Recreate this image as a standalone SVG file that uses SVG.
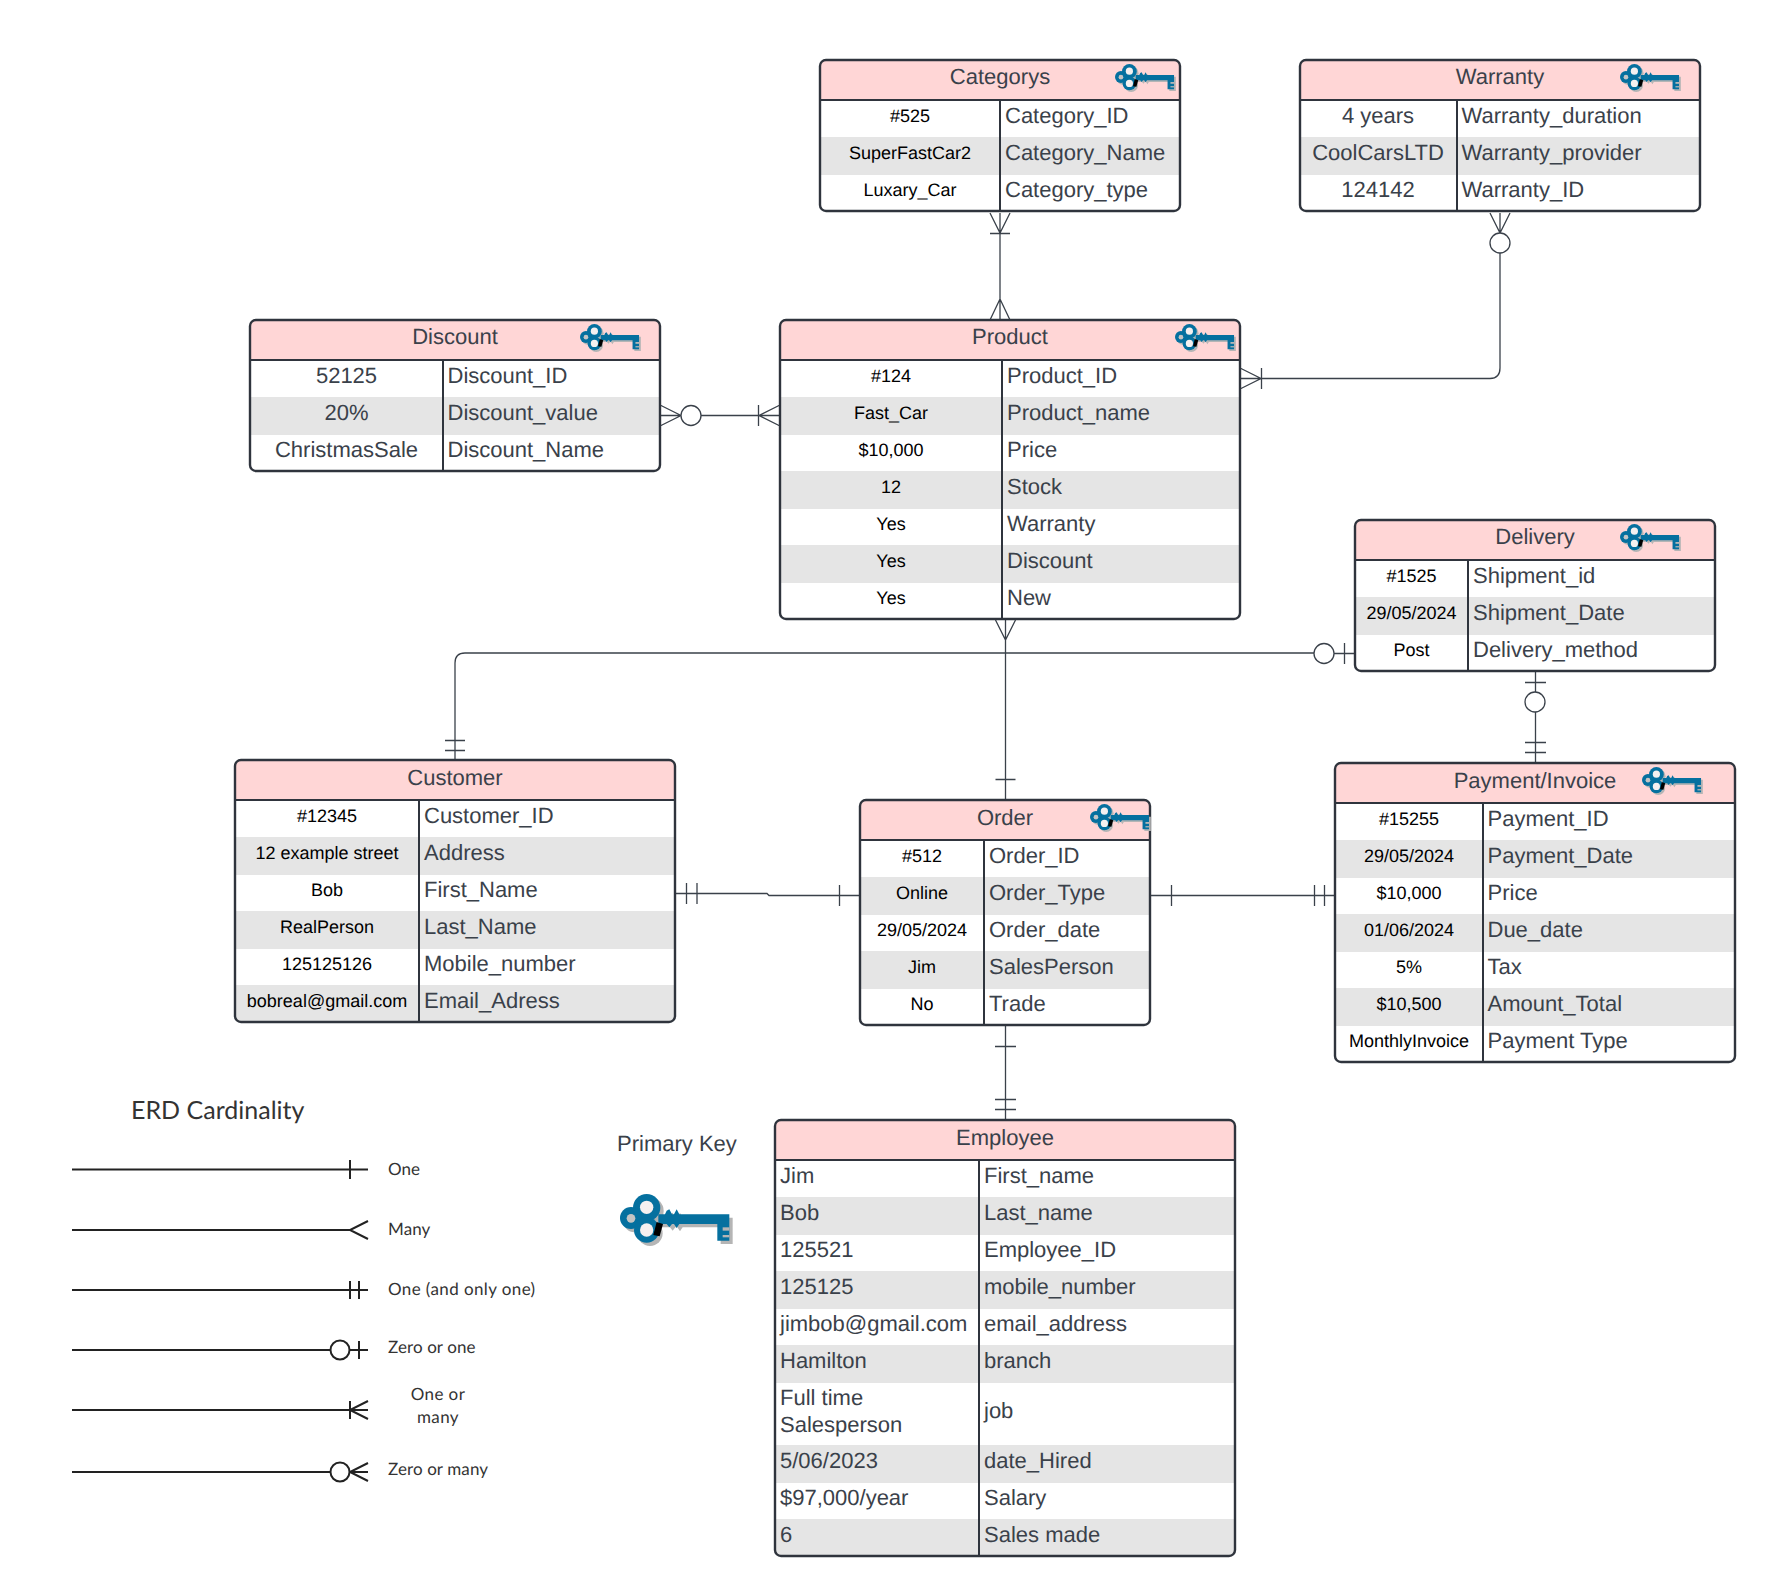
<svg xmlns="http://www.w3.org/2000/svg" xmlns:xlink="http://www.w3.org/1999/xlink" width="1775" height="1596" viewBox="0 0 1775 1596">
<style>
text{font-family:"Liberation Sans",Arial,sans-serif;font-size:22px;fill:#3a414a;text-rendering:geometricPrecision}
.m{text-anchor:middle}
.s{text-anchor:middle;font-size:18px;fill:#000;transform:translateY(-.7px)}
.box{fill:none;stroke:#2f343d;stroke-width:2.4}
.div{fill:none;stroke:#2f343d;stroke-width:2}
.hd{fill:#ffd6d6}
.g{fill:#e5e5e5}
.c{fill:none;stroke:#3a414a;stroke-width:1.3}
.o{fill:#fff;stroke:#3a414a;stroke-width:1.3}
.l{fill:none;stroke:#222;stroke-width:2}
.lo{fill:#fff;stroke:#222;stroke-width:2}
.lt{font-family:Lato,"Open Sans",sans-serif;font-size:17px;fill:#333;letter-spacing:.4px}
.ln{letter-spacing:.1px}
</style>
<defs>
<g id="keyshape">
<circle cx="140" cy="263" r="41"/><circle cx="93" cy="294" r="33"/><circle cx="140" cy="330" r="38"/>
<path d="M175 283H195L200 272L208 268L216 283H222L230 268L238 283H388V362H352V312H238L230 324L222 312H216L208 322L200 312H175Z"/>
</g>
<g id="key">
<g transform="translate(-60,-222)">
<use xlink:href="#keyshape" href="#keyshape" transform="translate(10,10)" fill="#b5b5b5"/>
<use xlink:href="#keyshape" href="#keyshape" fill="#05709f"/>
<circle cx="140" cy="262" r="20" fill="#f5f0f0"/><circle cx="93" cy="295" r="13" fill="#c4c4c4"/><circle cx="140" cy="330" r="20" fill="#f5f0f0"/>
<rect x="368" y="322" width="20" height="10" fill="#b5b5b5"/><rect x="368" y="345" width="20" height="7" fill="#b5b5b5"/>
<path d="M170 306L189 312L179 349L160 345Z" fill="#000"/>
</g>
</g>
</defs>

<g id="connectors">
<path class="c" d="M1000 213V320M990 213L1000 233L1010 213M990 233.500H1010M990 320L1000 299L1010 320"/>
<path class="c" d="M1490 213L1500 233L1510 213M1500 213V233M1500 253V368Q1500 378.500 1490 378.500H1240M1240 368L1261 378.500L1240 389M1261.500 368V389"/>
<circle class="o" cx="1500" cy="243" r="10"/>
<path class="c" d="M660 415.500H681M660 405L681 415.500L660 426M701 415.500H780M780 405L759 415.500L780 426M758.500 405V426"/>
<circle class="o" cx="691" cy="415.500" r="10"/>
<path class="c" d="M1005.500 620V800M995.500 620L1005.500 640L1015.500 620M995.500 779.500H1015.500"/>
<path class="c" d="M1314 653H465Q455 653 455 663V760M445 740.500H465M445 750.500H465"/>
<path class="c" d="M1334 653.500H1355M1344.500 643V664"/>
<circle class="o" cx="1324" cy="653.500" r="10"/>
<path class="c" d="M1535.500 671V692M1525 682.500H1546M1535.500 712V763M1525 742.500H1546M1525 752.500H1546"/>
<circle class="o" cx="1535" cy="702" r="10"/>
<path class="c" d="M675 893.500H767L769 895.500H860M686.500 883V904M697 883V904M839.500 885V906"/>
<path class="c" d="M1150 895.500H1335M1171.500 885V906M1314.500 885V906M1324.500 885V906"/>
<path class="c" d="M1005.500 1024V1120M995 1046.500H1016M995 1099.500H1016M995 1109.500H1016"/>
</g>

<g id="categorys">
<path class="hd" d="M820 100V66Q820 60 826 60H1174Q1180 60 1180 66V100Z"/>
<rect class="g" x="820" y="137" width="360" height="38"/>
<rect class="box" x="820" y="60" width="360" height="151" rx="6"/>
<path class="div" d="M820 100H1180M1000 100V211"/>
<text class="m" x="1000" y="84">Categorys</text>
<text class="s" x="910" y="123">#525</text><text x="1005" y="123">Category_ID</text>
<text class="s" x="910" y="160">SuperFastCar2</text><text x="1005" y="160">Category_Name</text>
<text class="s" x="910" y="197">Luxary_Car</text><text x="1005" y="197">Category_type</text>
<use xlink:href="#key" href="#key" transform="translate(1115,64) scale(.18)"/>
</g>

<g id="warranty">
<path class="hd" d="M1300 100V66Q1300 60 1306 60H1694Q1700 60 1700 66V100Z"/>
<rect class="g" x="1300" y="137" width="400" height="38"/>
<rect class="box" x="1300" y="60" width="400" height="151" rx="6"/>
<path class="div" d="M1300 100H1700M1457 100V211"/>
<text class="m" x="1500" y="84">Warranty</text>
<text class="m" x="1378" y="123">4 years</text><text x="1461.500" y="123">Warranty_duration</text>
<text class="m" x="1378" y="160">CoolCarsLTD</text><text x="1461.500" y="160">Warranty_provider</text>
<text class="m" x="1378" y="197">124142</text><text x="1461.500" y="197">Warranty_ID</text>
<use xlink:href="#key" href="#key" transform="translate(1620,64) scale(.18)"/>
</g>

<g id="discount">
<path class="hd" d="M250 360V326Q250 320 256 320H654Q660 320 660 326V360Z"/>
<rect class="g" x="250" y="397" width="410" height="38"/>
<rect class="box" x="250" y="320" width="410" height="151" rx="6"/>
<path class="div" d="M250 360H660M443 360V471"/>
<text class="m" x="455" y="344">Discount</text>
<text class="m" x="346.500" y="383">52125</text><text x="447.500" y="383">Discount_ID</text>
<text class="m" x="346.500" y="420">20%</text><text x="447.500" y="420">Discount_value</text>
<text class="m" x="346.500" y="457">ChristmasSale</text><text x="447.500" y="457">Discount_Name</text>
<use xlink:href="#key" href="#key" transform="translate(580,324) scale(.18)"/>
</g>

<g id="product">
<path class="hd" d="M780 360V326Q780 320 786 320H1234Q1240 320 1240 326V360Z"/>
<rect class="g" x="780" y="397" width="460" height="38"/>
<rect class="g" x="780" y="471" width="460" height="38"/>
<rect class="g" x="780" y="545" width="460" height="38"/>
<rect class="box" x="780" y="320" width="460" height="299" rx="6"/>
<path class="div" d="M780 360H1240M1002 360V619"/>
<text class="m" x="1010" y="344">Product</text>
<text class="s" x="891" y="383">#124</text><text x="1007" y="383">Product_ID</text>
<text class="s" x="891" y="420">Fast_Car</text><text x="1007" y="420">Product_name</text>
<text class="s" x="891" y="457">$10,000</text><text x="1007" y="457">Price</text>
<text class="s" x="891" y="494">12</text><text x="1007" y="494">Stock</text>
<text class="s" x="891" y="531">Yes</text><text x="1007" y="531">Warranty</text>
<text class="s" x="891" y="568">Yes</text><text x="1007" y="568">Discount</text>
<text class="s" x="891" y="605">Yes</text><text x="1007" y="605">New</text>
<use xlink:href="#key" href="#key" transform="translate(1175,324) scale(.18)"/>
</g>

<g id="delivery">
<path class="hd" d="M1355 560V526Q1355 520 1361 520H1709Q1715 520 1715 526V560Z"/>
<rect class="g" x="1355" y="597" width="360" height="38"/>
<rect class="box" x="1355" y="520" width="360" height="151" rx="6"/>
<path class="div" d="M1355 560H1715M1468 560V671"/>
<text class="m" x="1535" y="544">Delivery</text>
<text class="s" x="1411.500" y="583">#1525</text><text x="1473" y="583">Shipment_id</text>
<text class="s" x="1411.500" y="620">29/05/2024</text><text x="1473" y="620">Shipment_Date</text>
<text class="s" x="1411.500" y="657">Post</text><text x="1473" y="657">Delivery_method</text>
<use xlink:href="#key" href="#key" transform="translate(1620,524) scale(.18)"/>
</g>

<g id="payment">
<path class="hd" d="M1335 803V769Q1335 763 1341 763H1729Q1735 763 1735 769V803Z"/>
<rect class="g" x="1335" y="840" width="400" height="38"/>
<rect class="g" x="1335" y="914" width="400" height="38"/>
<rect class="g" x="1335" y="988" width="400" height="38"/>
<rect class="box" x="1335" y="763" width="400" height="299" rx="6"/>
<path class="div" d="M1335 803H1735M1483 803V1062"/>
<text class="m" x="1535" y="788">Payment/Invoice</text>
<text class="s" x="1409" y="826">#15255</text><text x="1487.500" y="826">Payment_ID</text>
<text class="s" x="1409" y="863">29/05/2024</text><text x="1487.500" y="863">Payment_Date</text>
<text class="s" x="1409" y="900">$10,000</text><text x="1487.500" y="900">Price</text>
<text class="s" x="1409" y="937">01/06/2024</text><text x="1487.500" y="937">Due_date</text>
<text class="s" x="1409" y="974">5%</text><text x="1487.500" y="974">Tax</text>
<text class="s" x="1409" y="1011">$10,500</text><text x="1487.500" y="1011">Amount_Total</text>
<text class="s" x="1409" y="1048">MonthlyInvoice</text><text x="1487.500" y="1048">Payment Type</text>
<use xlink:href="#key" href="#key" transform="translate(1642,767) scale(.18)"/>
</g>

<g id="customer">
<path class="hd" d="M235 800V766Q235 760 241 760H669Q675 760 675 766V800Z"/>
<rect class="g" x="235" y="837" width="440" height="38"/>
<rect class="g" x="235" y="911" width="440" height="38"/>
<path class="g" d="M235 985H675V1016Q675 1022 669 1022H241Q235 1022 235 1016Z"/>
<rect class="box" x="235" y="760" width="440" height="262" rx="6"/>
<path class="div" d="M235 800H675M419 800V1022"/>
<text class="m" x="455" y="785">Customer</text>
<text class="s" x="327" y="823">#12345</text><text x="424" y="823">Customer_ID</text>
<text class="s" x="327" y="860">12 example street</text><text x="424" y="860">Address</text>
<text class="s" x="327" y="897">Bob</text><text x="424" y="897">First_Name</text>
<text class="s" x="327" y="934">RealPerson</text><text x="424" y="934">Last_Name</text>
<text class="s" x="327" y="971">125125126</text><text x="424" y="971">Mobile_number</text>
<text class="s" x="327" y="1008">bobreal@gmail.com</text><text x="424" y="1008">Email_Adress</text>
</g>

<g id="order">
<path class="hd" d="M860 840V806Q860 800 866 800H1144Q1150 800 1150 806V840Z"/>
<rect class="g" x="860" y="877" width="290" height="38"/>
<rect class="g" x="860" y="951" width="290" height="38"/>
<rect class="box" x="860" y="800" width="290" height="225" rx="6"/>
<path class="div" d="M860 840H1150M984 840V1025"/>
<text class="m" x="1005" y="825">Order</text>
<text class="s" x="922" y="863">#512</text><text x="989" y="863">Order_ID</text>
<text class="s" x="922" y="900">Online</text><text x="989" y="900">Order_Type</text>
<text class="s" x="922" y="937">29/05/2024</text><text x="989" y="937">Order_date</text>
<text class="s" x="922" y="974">Jim</text><text x="989" y="974">SalesPerson</text>
<text class="s" x="922" y="1011">No</text><text x="989" y="1011">Trade</text>
<use xlink:href="#key" href="#key" transform="translate(1090,804) scale(.18)"/>
</g>

<g id="employee">
<path class="hd" d="M775 1160V1126Q775 1120 781 1120H1229Q1235 1120 1235 1126V1160Z"/>
<rect class="g" x="775" y="1197" width="460" height="38"/>
<rect class="g" x="775" y="1271" width="460" height="38"/>
<rect class="g" x="775" y="1345" width="460" height="38"/>
<rect class="g" x="775" y="1445" width="460" height="38"/>
<path class="g" d="M775 1519H1235V1550Q1235 1556 1229 1556H781Q775 1556 775 1550Z"/>
<rect class="box" x="775" y="1120" width="460" height="436" rx="6"/>
<path class="div" d="M775 1160H1235M979 1160V1556"/>
<text class="m" x="1005" y="1145">Employee</text>
<text x="780" y="1183">Jim</text><text x="984" y="1183">First_name</text>
<text x="780" y="1220">Bob</text><text x="984" y="1220">Last_name</text>
<text x="780" y="1257">125521</text><text x="984" y="1257">Employee_ID</text>
<text x="780" y="1294">125125</text><text x="984" y="1294">mobile_number</text>
<text x="780" y="1331">jimbob@gmail.com</text><text x="984" y="1331">email_address</text>
<text x="780" y="1368">Hamilton</text><text x="984" y="1368">branch</text>
<text x="780" y="1405">Full time</text><text x="780" y="1432">Salesperson</text><text x="984" y="1418">job</text>
<text x="780" y="1468">5/06/2023</text><text x="984" y="1468">date_Hired</text>
<text x="780" y="1505">$97,000/year</text><text x="984" y="1505">Salary</text>
<text x="780" y="1542">6</text><text x="984" y="1542">Sales made</text>
</g>

<g id="primary-key">
<text x="617" y="1151">Primary Key</text>
<use xlink:href="#key" href="#key" transform="translate(620,1194) scale(.3333)"/>
</g>

<g id="legend">
<text class="lt" x="131" y="1119" style="font-size:25px;letter-spacing:0">ERD Cardinality</text>
<path class="l" d="M72 1169.500H368M350 1160V1179"/>
<text class="lt ln" x="388" y="1175">One</text>
<path class="l" d="M72 1230H350M368 1221L350 1230L368 1239"/>
<text class="lt ln" x="388" y="1235">Many</text>
<path class="l" d="M72 1290H368M350 1281V1299M359 1281V1299"/>
<text class="lt" x="388" y="1295">One (and only one)</text>
<path class="l" d="M72 1350H368M359 1341V1359"/>
<circle class="lo" cx="340" cy="1350" r="9.500"/>
<text class="lt ln" x="388" y="1353">Zero or one</text>
<path class="l" d="M72 1410H368M350 1401V1419M368 1401L350 1410L368 1419"/>
<text class="lt m" x="438" y="1400">One or</text>
<text class="lt m" x="438" y="1423">many</text>
<path class="l" d="M72 1472H368M368 1463L350 1472L368 1481"/>
<circle class="lo" cx="340" cy="1472" r="9.500"/>
<text class="lt ln" x="388" y="1475">Zero or many</text>
</g>
</svg>
